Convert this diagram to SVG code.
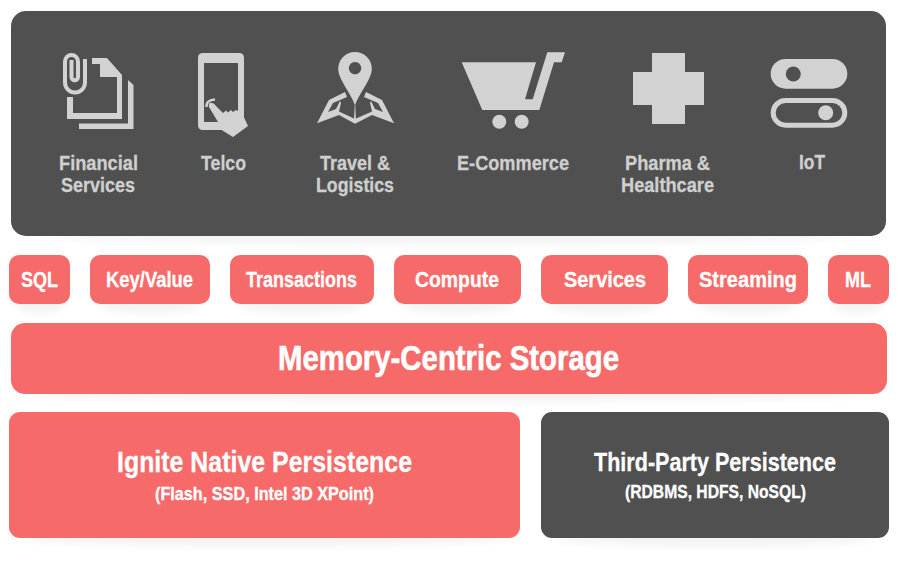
<svg xmlns="http://www.w3.org/2000/svg" width="898" height="568" viewBox="0 0 898 568">
<style>
text{font-family:"Liberation Sans",Arial,sans-serif;font-weight:700;fill:#fff;stroke:#fff;stroke-width:.3}
text.lab{font-size:21px;fill:#cfcfcf;stroke:#cfcfcf}
.pill{font-size:22.500px}
.coral{fill:#f66b6a}
.dark{fill:#505050}
.ic{fill:#d2d2d2}
.ln{fill:none;stroke:#d2d2d2}
.sh{fill:#000;opacity:.045;filter:url(#b)}
</style>
<defs><filter id="b" x="-20%" y="-100%" width="140%" height="300%"><feGaussianBlur stdDeviation="4"/></filter></defs>
<rect width="898" height="568" fill="#fff"/>
<g id="shadows">
<ellipse class="sh" cx="448" cy="236" rx="410" ry="8"/>
<ellipse class="sh" cx="40" cy="305" rx="26" ry="9"/>
<ellipse class="sh" cx="150" cy="305" rx="52" ry="9"/>
<ellipse class="sh" cx="302" cy="305" rx="64" ry="9"/>
<ellipse class="sh" cx="457" cy="305" rx="56" ry="9"/>
<ellipse class="sh" cx="604" cy="305" rx="56" ry="9"/>
<ellipse class="sh" cx="748" cy="305" rx="52" ry="9"/>
<ellipse class="sh" cx="858" cy="305" rx="26" ry="9"/>
<ellipse class="sh" cx="449" cy="394" rx="410" ry="8"/>
<ellipse class="sh" cx="264" cy="538" rx="235" ry="9"/>
<ellipse class="sh" cx="715" cy="538" rx="160" ry="9"/>
</g>
<g id="industries">
<rect class="dark" x="11" y="11" width="875" height="225" rx="15"/>
<g id="financial">
<path class="ln" stroke-width="4" d="M85 59V82.500A10 10 0 0 1 65 82.500V61.500A6.500 6.500 0 0 1 78 61.500V77A3.250 3.250 0 0 1 71.500 77V60"/>
<path class="ic" d="M92 58H107L122 75V119H67V97H73V113H117V77H100V64H92Z"/>
<path class="ic" d="M128 80L133.500 85V129H79V123.500H128Z"/>
<text class="lab" x="59" y="170" textLength="79" lengthAdjust="spacingAndGlyphs">Financial</text>
<text class="lab" x="61" y="192" textLength="74" lengthAdjust="spacingAndGlyphs">Services</text>
</g>
<g id="telco">
<path class="ic" fill-rule="evenodd" d="M203 53H239Q244 53 244 58V125Q244 130 239 130H203Q198 130 198 125V58Q198 53 203 53ZM204 63V122H238V63Z"/>
<path class="ic" d="M209 107Q208 102 212 103Q214 103 216 106L223 113L226 110.500L228 112.500L231 110L233 112L236 110L242 113L248 126L233 137L220 129L218 122Z"/>
<path class="ln" stroke-width="2.500" d="M206.500 107Q206 100 215 99.500"/>
<text class="lab" x="201" y="170" textLength="45" lengthAdjust="spacingAndGlyphs">Telco</text>
</g>
<g id="travel">
<path class="ic" fill-rule="evenodd" d="M355 52A16.800 16.800 0 0 1 371.800 69C371.800 79 361 90 355 105C349 90 338.200 79 338.200 69A16.800 16.800 0 0 1 355 52ZM355 62A6.200 6.200 0 1 0 355.100 62Z"/>
<path class="ic" d="M355 100L356 120H354Z"/>
<path class="ic" d="M317 123.300L329 100L345 92L347 97L333 103L328 112L336 109L340 101L341 103L339 111.500L355 119V123.700L339 115Z"/>
<path class="ic" d="M394 123.300L382 100L366 92L364 97L378 103L383 112L375 109L371 101L370 103L372 111.500L355 119V123.700L372 115Z"/>
<text class="lab" x="320" y="170" textLength="70" lengthAdjust="spacingAndGlyphs">Travel &amp;</text>
<text class="lab" x="316" y="192" textLength="78" lengthAdjust="spacingAndGlyphs">Logistics</text>
</g>
<g id="ecommerce">
<path class="ic" d="M461.700 62.300H536L525 99.300H532.700L547.300 52.300H565L561.700 62.300H554L539.300 110H482.300Z"/>
<circle class="ic" cx="499.300" cy="121.700" r="7"/>
<circle class="ic" cx="521.700" cy="121.700" r="7"/>
<text class="lab" x="457" y="170" textLength="112" lengthAdjust="spacingAndGlyphs">E-Commerce</text>
</g>
<g id="pharma">
<path class="ic" d="M652 53H685V72H704V105H685V124H652V105H633V72H652Z"/>
<text class="lab" x="625" y="170" textLength="85" lengthAdjust="spacingAndGlyphs">Pharma &amp;</text>
<text class="lab" x="621" y="192" textLength="93" lengthAdjust="spacingAndGlyphs">Healthcare</text>
</g>
<g id="iot">
<rect class="ic" x="770.700" y="59" width="76.600" height="29.700" rx="14.850"/>
<circle class="dark" cx="793.300" cy="74" r="7.500"/>
<rect class="ln" stroke-width="5" x="773.200" y="100.500" width="71.600" height="24.700" rx="12.350"/>
<circle class="ic" cx="825.700" cy="112.800" r="7.500"/>
<text class="lab" x="799" y="169" textLength="26" lengthAdjust="spacingAndGlyphs">IoT</text>
</g>
</g>
<g id="sql"><rect class="coral" x="9" y="255" width="61" height="49" rx="10"/><text class="pill" x="21" y="287" textLength="37" lengthAdjust="spacingAndGlyphs">SQL</text></g>
<g id="keyvalue"><rect class="coral" x="90" y="255" width="120" height="49" rx="10"/><text class="pill" x="106" y="287" textLength="87" lengthAdjust="spacingAndGlyphs">Key/Value</text></g>
<g id="transactions"><rect class="coral" x="230" y="255" width="144" height="49" rx="10"/><text class="pill" x="246" y="287" textLength="111" lengthAdjust="spacingAndGlyphs">Transactions</text></g>
<g id="compute"><rect class="coral" x="394" y="255" width="127" height="49" rx="10"/><text class="pill" x="415" y="287" textLength="84" lengthAdjust="spacingAndGlyphs">Compute</text></g>
<g id="services"><rect class="coral" x="541" y="255" width="127" height="49" rx="10"/><text class="pill" x="564" y="287" textLength="82" lengthAdjust="spacingAndGlyphs">Services</text></g>
<g id="streaming"><rect class="coral" x="688" y="255" width="120" height="49" rx="10"/><text class="pill" x="699" y="287" textLength="98" lengthAdjust="spacingAndGlyphs">Streaming</text></g>
<g id="ml"><rect class="coral" x="828" y="255" width="61" height="49" rx="10"/><text class="pill" x="845" y="287" textLength="26" lengthAdjust="spacingAndGlyphs">ML</text></g>
<g id="storage"><rect class="coral" x="11" y="323" width="876" height="71" rx="14"/><text font-size="35" x="278" y="370" textLength="341" lengthAdjust="spacingAndGlyphs" style="stroke-width:.6">Memory-Centric Storage</text></g>
<g id="native"><rect class="coral" x="9" y="412" width="511" height="126" rx="11"/><text font-size="29" x="117" y="472" textLength="295" lengthAdjust="spacingAndGlyphs">Ignite Native Persistence</text><text font-size="18" x="155" y="500" textLength="219" lengthAdjust="spacingAndGlyphs">(Flash, SSD, Intel 3D XPoint)</text></g>
<g id="third"><rect class="dark" x="541" y="412" width="348" height="126" rx="11"/><text font-size="25.500" x="594" y="471" textLength="242" lengthAdjust="spacingAndGlyphs">Third-Party Persistence</text><text font-size="18" x="625" y="498" textLength="181" lengthAdjust="spacingAndGlyphs">(RDBMS, HDFS, NoSQL)</text></g>
</svg>
